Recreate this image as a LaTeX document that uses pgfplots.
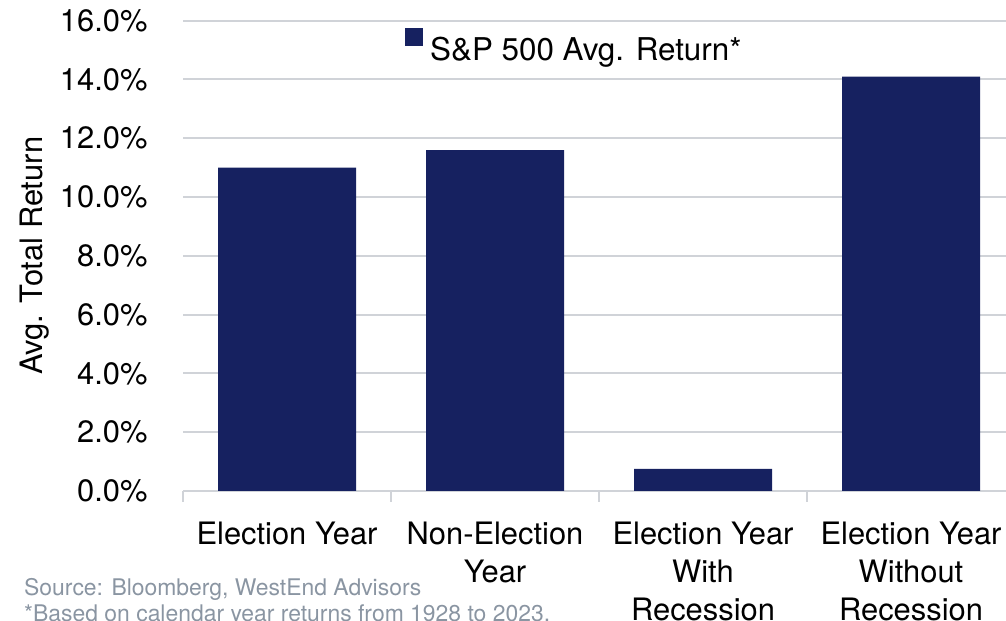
\documentclass[border=0pt]{standalone}
\usepackage{fontspec}
\setmainfont{TeX Gyre Heros}
\usepackage{pgfplots}
\pgfplotsset{compat=1.18}
\definecolor{barblue}{RGB}{22,33,96}
\definecolor{gridgray}{RGB}{208,211,216}
\definecolor{notegray}{RGB}{138,149,162}
\begin{document}
\begin{tikzpicture}[x=1bp,y=1bp]
\useasboundingbox (0,0) rectangle (1006,621);
\clip (0,0) rectangle (1006,621);
\begin{axis}[
  at={(183bp,130bp)}, anchor=south west,
  scale only axis, width=832bp, height=470.3bp,
  xmin=-0.5, xmax=3.5, ymin=0, ymax=16,
  ybar, bar width=138bp,
  axis lines*=left, separate axis lines,
  y axis line style={draw=none},
  x axis line style={gridgray, line width=2bp},
  xtick={0,1,2,3},
  xticklabels={Election Year, Non-Election\\Year, Election Year\\With\\Recession, Election Year\\Without\\Recession},
  major x tick style={draw=none},
  minor xtick={-0.5,0.5,1.5,2.5,3.5},
  minor tick length=11bp, tick align=outside,
  minor x tick style={gridgray, line width=2bp},
  ytick={0,2,...,16},
  ytick style={draw=none},
  ymajorgrids, grid style={gridgray, line width=2bp},
  yticklabel={\pgfmathprintnumber[fixed,fixed zerofill,precision=1]{\tick}\%},
  /pgf/number format/assume math mode=true,
  tick label style={font=\fontsize{31}{38}\selectfont, text=black},
  yticklabel style={anchor=east, inner sep=0pt, xshift=-31bp},
  xticklabel style={anchor=north, inner sep=0pt, align=center, yshift=-27bp},
  every axis y label/.style={at={(rel axis cs:0,0.5)}, xshift=-148bp, rotate=90, anchor=center, font=\fontsize{31}{36}\selectfont},
  ylabel={Avg. Total Return},
  legend style={at={(0.2668,0.946)}, anchor=west, draw=none, fill=none, inner sep=0pt,
    font=\fontsize{31.5}{36}\selectfont, legend cell align=left,
    /tikz/every odd column/.append style={column sep=5bp}},
  clip=false,
]
\addplot[fill=barblue, draw=none, legend image code/.code={\fill[barblue] (0bp,3bp) rectangle (18bp,21bp);}]
  coordinates {(0,11.0) (1,11.6) (2,0.75) (3,14.1)};
\addlegendentry{S\&P 500 Avg. Return*}
\end{axis}
\node[anchor=base west, inner sep=0pt, text=notegray, font=\fontsize{23}{28}\selectfont] at (24,25.3) {Source: Bloomberg, WestEnd Advisors};
\node[anchor=base west, inner sep=0pt, text=notegray, font=\fontsize{23}{28}\selectfont] at (24,-1) {*Based on calendar year returns from 1928 to 2023.};
\end{tikzpicture}
\end{document}
